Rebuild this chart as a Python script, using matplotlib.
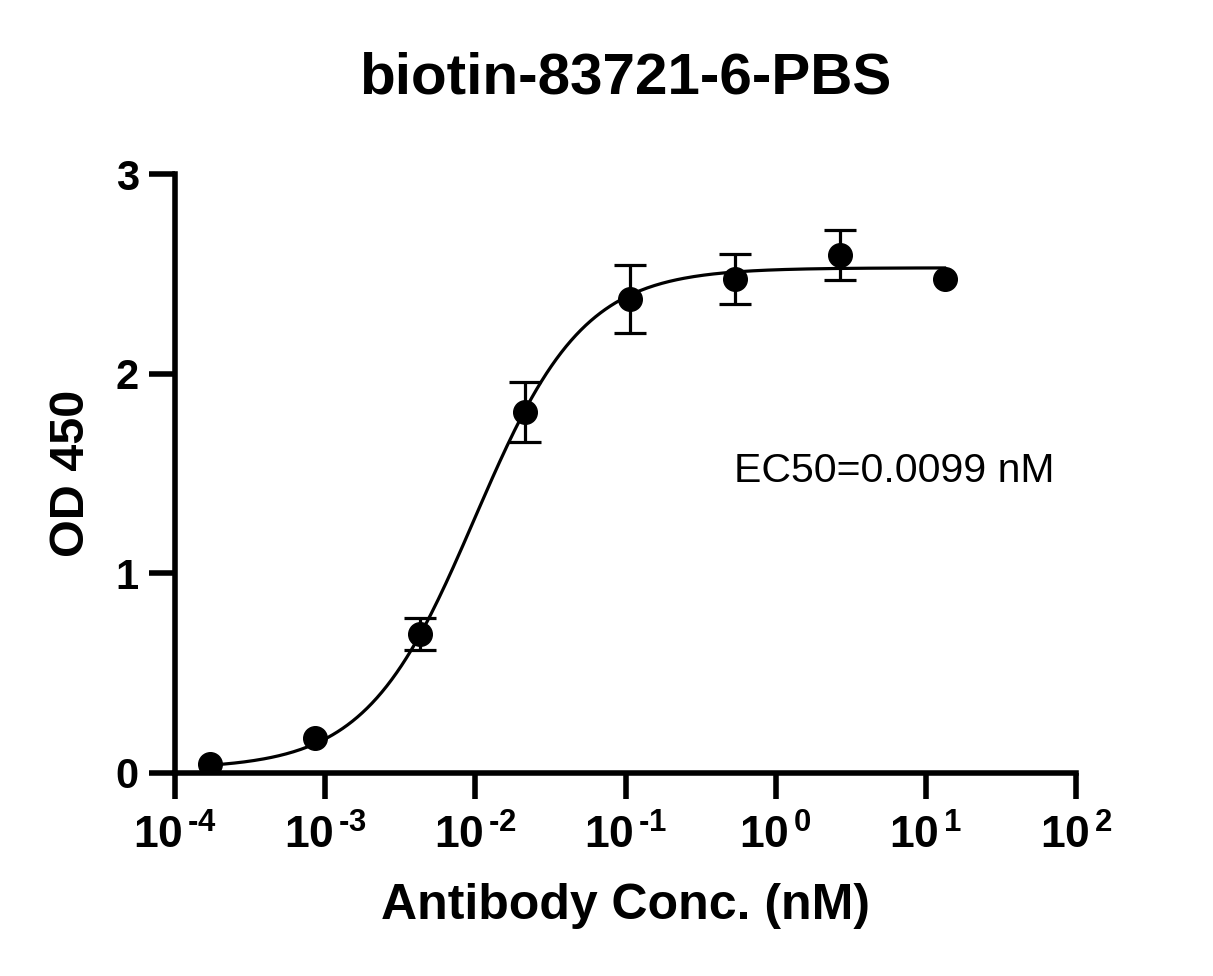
import numpy as np
import matplotlib
matplotlib.use('Agg')
import matplotlib.pyplot as plt
from matplotlib.ticker import FixedLocator, NullLocator

plt.rcParams['font.family'] = 'Liberation Sans'
plt.rcParams['font.weight'] = 'bold'
plt.rcParams['mathtext.fontset'] = 'custom'
plt.rcParams['mathtext.rm'] = 'Liberation Sans:bold'
plt.rcParams['mathtext.it'] = 'Liberation Sans:bold'
plt.rcParams['mathtext.bf'] = 'Liberation Sans:bold'
plt.rcParams['mathtext.default'] = 'regular'

# data (5-fold dilution series)
conc = [13.33 / 5**k for k in range(7, -1, -1)]
od = [0.045, 0.175, 0.695, 1.81, 2.375, 2.475, 2.595, 2.475]
# SD; nan where the bar is hidden behind the marker
od_err = [np.nan, np.nan, 0.08, 0.15, 0.17, 0.125, 0.125, np.nan]

# 4PL fit parameters
bottom = 0.02
top = 2.53
ec50 = 0.0099
hill = 1.2

title = 'biotin-83721-6-PBS'
xlabel = 'Antibody Conc. (nM)'
ylabel = 'OD 450'
xticks = [1e-4, 1e-3, 1e-2, 1e-1, 1e0, 1e1, 1e2]
xexp = ['-4', '-3', '-2', '-1', '0', '1', '2']
yticks = [0, 1, 2, 3]

fig = plt.figure(figsize=(12.13, 9.76), dpi=100)
ax = fig.add_axes([175/1213, 1-773/976, (1076-175)/1213, (773-174)/976])

xf = np.logspace(np.log10(min(conc)), np.log10(max(conc)), 300)
yf = bottom + (top - bottom) / (1 + (ec50 / xf)**hill)
ax.plot(xf, yf, color='k', lw=2.3)
ax.errorbar(conc, od, yerr=od_err, fmt='o', color='k', ms=17, elinewidth=2.3,
            capsize=11.5, capthick=2.3)

ax.set_xscale('log')
ax.set_xlim(1e-4, 1e2)
ax.set_ylim(0, 3)
ax.xaxis.set_major_locator(FixedLocator(xticks))
ax.xaxis.set_minor_locator(NullLocator())
ax.set_xticklabels([r'$10^{\,\text{%s}}$' % e for e in xexp])
ax.set_yticks(yticks)
ax.set_yticklabels([str(v) for v in yticks])

for s in ['top', 'right']:
    ax.spines[s].set_visible(False)
for s in ['left', 'bottom']:
    ax.spines[s].set_linewidth(4)
ax.tick_params(axis='both', width=4, length=19, color='k')
ax.tick_params(axis='x', pad=11, labelsize=32)
ax.tick_params(axis='y', pad=7, labelsize=30)

ax.set_title(title, fontsize=42, fontweight='bold', pad=58)
ax.set_xlabel(xlabel, fontsize=36, fontweight='bold', labelpad=18)
ax.set_ylabel(ylabel, fontsize=35, fontweight='bold', labelpad=16)

ax.text(0.62, 0.486, 'EC50=0.0099 nM', transform=ax.transAxes, fontsize=29.5,
        fontweight='normal', ha='left', va='baseline')

fig.savefig('out.png', dpi=100)
